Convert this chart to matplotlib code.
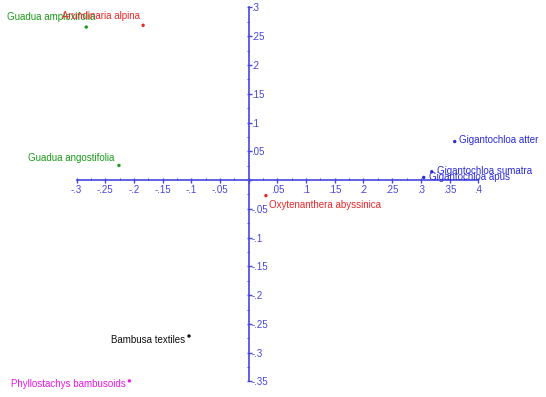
import numpy as np
import matplotlib
matplotlib.use("Agg")
import matplotlib.pyplot as plt
from matplotlib.ticker import FuncFormatter, FixedLocator

# ---- data ----
names = ["Guadua amplexifolia", "Arundinaria alpina", "Guadua angostifolia",
         "Oxytenanthera abyssinica", "Gigantochloa atter", "Gigantochloa sumatra",
         "Gigantochloa apus", "Bambusa textiles", "Phyllostachys bambusoids"]
xs = [-0.283, -0.184, -0.226, 0.030, 0.359, 0.319, 0.305, -0.104, -0.208]
ys = [0.266, 0.269, 0.0255, -0.027, 0.067, 0.0145, 0.0046, -0.271, -0.349]

# ---- styles ----
colors = ["#1a9a1a", "#e8262a", "#1a9a1a", "#e8262a", "#2a2ad8", "#2a2ad8",
          "#2a2ad8", "#111111", "#e818e8"]
# label offsets in pixels (dx, dy up) and horizontal alignment
offsets = [(-79, 10, "left"), (-3, 9, "right"), (-5, 7.6, "right"),
           (3.3, -9.3, "left"), (4, 2, "left"), (5, 0.7, "left"),
           (5, 0, "left"), (-3.5, -4, "right"), (-4, -3.3, "right")]

axis_color = "#4646e0"
plt.rcParams['font.family'] = ['Liberation Sans', 'DejaVu Sans']

fig = plt.figure(figsize=(5.46, 3.97), dpi=100)
ax = fig.add_axes([0, 0, 1, 1])
ax.set_xlim(-0.4333, 0.518)
ax.set_ylim(-0.377, 0.313)

for s in ["top", "left"]:
    ax.spines[s].set_visible(False)
ax.spines["bottom"].set_position(("data", 0))
ax.spines["right"].set_position(("data", 0))
ax.spines["bottom"].set_bounds(-0.3, 0.4)
ax.spines["right"].set_bounds(-0.35, 0.3)
for s in ["bottom", "right"]:
    ax.spines[s].set_color(axis_color)
    ax.spines[s].set_linewidth(1.2)
ax.xaxis.set_ticks_position("bottom")
ax.yaxis.set_ticks_position("right")

ax.set_xticks(np.round(np.arange(-0.3, 0.4001, 0.05), 3))
ax.set_yticks(np.round(np.arange(-0.35, 0.3001, 0.05), 3))
ax.xaxis.set_minor_locator(FixedLocator(np.round(np.arange(-0.275, 0.4, 0.05), 4)))
ax.yaxis.set_minor_locator(FixedLocator(np.round(np.arange(-0.325, 0.3, 0.05), 4)))


def fmt(v, pos):
    if abs(v) < 1e-9:
        return ""
    s = f"{v:.2f}".rstrip("0").rstrip(".")
    return s.replace("0.", ".", 1)


ax.xaxis.set_major_formatter(FuncFormatter(fmt))
ax.yaxis.set_major_formatter(FuncFormatter(fmt))
ax.tick_params(which="major", direction="inout", length=3.6, width=1,
               color=axis_color, labelcolor=axis_color, labelsize=7)
ax.tick_params(which="minor", direction="in", length=1.8, width=0.8,
               color=axis_color)
ax.tick_params(axis="x", which="major", pad=1.5)
ax.tick_params(axis="y", which="major", pad=0.3)

ax.scatter(xs, ys, s=6, c=colors, zorder=3, linewidths=0)
for n, x, y, c, (dx, dy, ha) in zip(names, xs, ys, colors, offsets):
    ax.annotate(n, (x, y), xytext=(dx * 0.72, dy * 0.72), textcoords="offset points",
                ha=ha, va="center", color=c, fontsize=7)

fig.savefig("out.png", dpi=100)
